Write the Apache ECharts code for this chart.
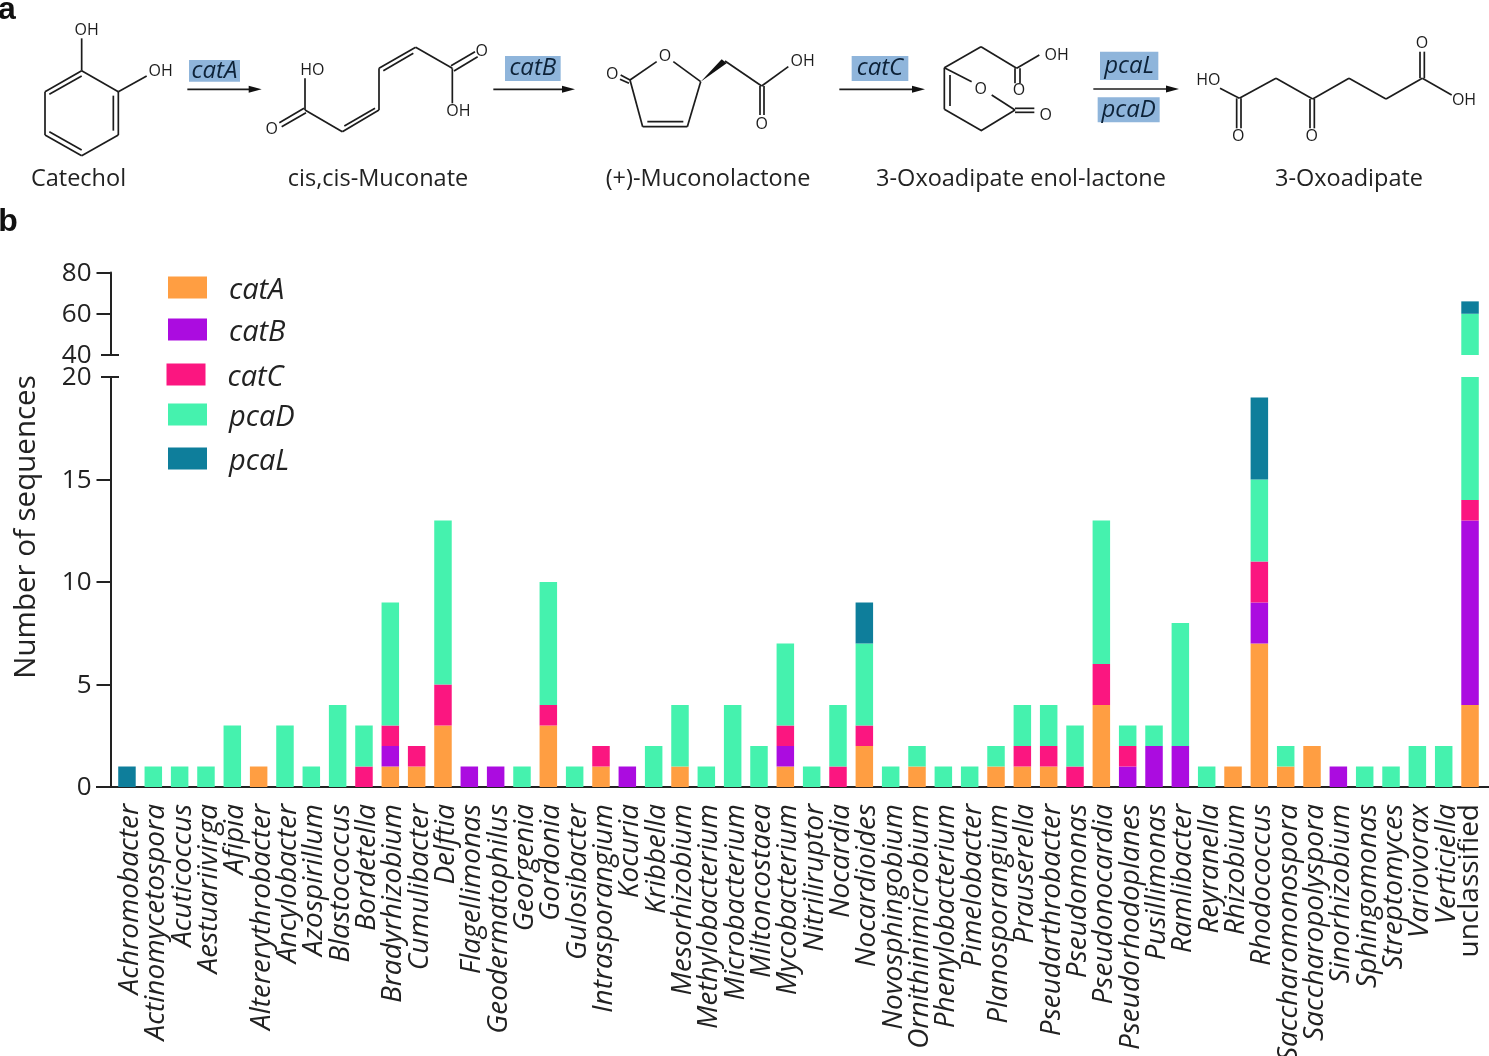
<!DOCTYPE html>
<html><head><meta charset="utf-8">
<style>html,body{margin:0;padding:0;background:#fff;overflow:hidden}#c{width:1489px;height:1056px}</style>
<script src="https://cdn.jsdelivr.net/npm/echarts@6/dist/echarts.min.js"></script>
</head><body><div id="c"></div>
<script>
const categories = ['Achromobacter','Actinomycetospora','Acuticoccus','Aestuariivirga','Afipia','Altererythrobacter','Ancylobacter','Azospirillum','Blastococcus','Bordetella','Bradyrhizobium','Cumulibacter','Delftia','Flagellimonas','Geodermatophilus','Georgenia','Gordonia','Gulosibacter','Intrasporangium','Kocuria','Kribbella','Mesorhizobium','Methylobacterium','Microbacterium','Miltoncostaea','Mycobacterium','Nitriliruptor','Nocardia','Nocardioides','Novosphingobium','Ornithinimicrobium','Phenylobacterium','Pimelobacter','Planosporangium','Prauserella','Pseudarthrobacter','Pseudomonas','Pseudonocardia','Pseudorhodoplanes','Pusillimonas','Ramlibacter','Reyranella','Rhizobium','Rhodococcus','Saccharomonospora','Saccharopolyspora','Sinorhizobium','Sphingomonas','Streptomyces','Variovorax','Verticiella','unclassified'];
const catA = [0,0,0,0,0,1,0,0,0,0,1,1,3,0,0,0,3,0,1,0,0,1,0,0,0,1,0,0,2,0,1,0,0,1,1,1,0,4,0,0,0,0,1,7,1,2,0,0,0,0,0,4];
const catB = [0,0,0,0,0,0,0,0,0,0,1,0,0,1,1,0,0,0,0,1,0,0,0,0,0,1,0,0,0,0,0,0,0,0,0,0,0,0,1,2,2,0,0,2,0,0,1,0,0,0,0,9];
const catC = [0,0,0,0,0,0,0,0,0,1,1,1,2,0,0,0,1,0,1,0,0,0,0,0,0,1,0,1,1,0,0,0,0,0,1,1,1,2,1,0,0,0,0,2,0,0,0,0,0,0,0,1];
const pcaD = [0,1,1,1,3,0,3,1,4,2,6,0,8,0,0,1,6,1,0,0,2,3,1,4,2,4,1,3,4,1,1,1,1,1,2,2,2,7,1,1,6,1,0,4,1,0,0,1,1,2,2,46];
const pcaL = [1,0,0,0,0,0,0,0,0,0,0,0,0,0,0,0,0,0,0,0,0,0,0,0,0,0,0,0,2,0,0,0,0,0,0,0,0,0,0,0,0,0,0,4,0,0,0,0,0,0,0,6];
const seriesNames = ['catA','catB','catC','pcaD','pcaL'];
const seriesValues = [catA,catB,catC,pcaD,pcaL];
const seriesColors = ['#FF9E42','#AB0CE0','#FB1680','#45F2AE','#0E7E9B'];
const lowerTicks = [0,5,10,15,20];
const upperTicks = [40,60,80];

const FONT = '"Open Sans"';
const INK = '#222222';
const chart = echarts.init(document.getElementById('c'));

const G = {left:113.8, right:1489-1483.2};
const series = [];
[1,0].forEach(ax=>{
  seriesNames.forEach((n,i)=>{
    series.push({name:n,type:'bar',stack:'s'+ax,xAxisIndex:ax,yAxisIndex:ax,barWidth:17.5,
      itemStyle:{color:seriesColors[i]},data:seriesValues[i],silent:true,clip:true});
  });
});
const legendPos = [[168,276],[168,318],[166.5,363],[168,403],[168,447]];
const legends = seriesNames.map((n,i)=>({data:[n],left:legendPos[i][0],top:legendPos[i][1],orient:'vertical',padding:0,
  icon:'rect',itemWidth:39,itemHeight:22,selectedMode:false,formatter:'{n|{name}}',
  textStyle:{fontFamily:FONT,fontStyle:'italic',fontSize:29,color:INK,
    rich:{n:{fontFamily:FONT,fontStyle:'italic',fontSize:29,color:INK,padding:[6,0,0,17]}}}}));

chart.setOption({
  animation:false,
  backgroundColor:'#fff',
  legend:legends,
  grid:[
    {left:G.left,right:G.right,top:272.5,height:82.5,outerBoundsMode:'none'},
    {left:G.left,right:G.right,top:377,height:410,outerBoundsMode:'none'}
  ],
  xAxis:[
    {gridIndex:0,type:'category',data:categories,show:false},
    {gridIndex:1,type:'category',
     data:categories.map(c=>c==='unclassified'?{value:c,textStyle:{fontStyle:'normal'}}:c),
     axisLine:{lineStyle:{color:INK,width:2}},
     axisTick:{alignWithLabel:true,length:13,lineStyle:{color:INK,width:2}},
     axisLabel:{rotate:90,interval:0,margin:17,fontFamily:FONT,fontStyle:'italic',fontSize:28,color:INK,verticalAlign:'top',lineHeight:6}}
  ],
  yAxis:[
    {gridIndex:0,type:'value',min:upperTicks[0],max:upperTicks[2],interval:20,offset:3.3,splitLine:{show:false},
     axisLine:{show:true,lineStyle:{color:INK,width:2}},
     axisTick:{show:true,length:14,lineStyle:{color:INK,width:2},customValues:[60,80]},
     axisLabel:{fontFamily:FONT,fontSize:26,color:INK,margin:19,verticalAlign:'top',lineHeight:2}},
    {gridIndex:1,type:'value',min:lowerTicks[0],max:lowerTicks[4],interval:5,offset:3.3,splitLine:{show:false},
     name:'Number of sequences',nameLocation:'middle',nameGap:69,nameRotate:90,
     nameTextStyle:{fontFamily:FONT,fontSize:29.5,color:INK,padding:[0,0,0,110]},
     axisLine:{show:true,lineStyle:{color:INK,width:2}},
     axisTick:{show:true,length:14,lineStyle:{color:INK,width:2},customValues:[0,5,10,15]},
     axisLabel:{fontFamily:FONT,fontSize:26,color:INK,margin:19,verticalAlign:'top',lineHeight:2}}
  ],
  series
});

/* ---- decoration: reaction scheme of panel a, in 3x-zoomed sketch units ---- */
const els = [];
const P = (ox,x,y)=>[ox+x/3,y/3];
const LINE = {stroke:'#1c1c1c',lineWidth:1.7};
function bonds(ox,list){ list.forEach(b=>{
  const a=P(ox,b[0],b[1]), c=P(ox,b[2],b[3]);
  els.push({type:'line',silent:true,shape:{x1:a[0],y1:a[1],x2:c[0],y2:c[1]},style:LINE});
});}
function atoms(ox,list){ list.forEach(t=>{
  const a=P(ox,t[1],t[2]);
  els.push({type:'text',silent:true,style:{text:t[0],x:a[0],y:a[1],align:'center',verticalAlign:'middle',fontFamily:FONT,fontSize:16,fill:'#1c1c1c'}});
});}
function arrow(ox,x1,x2,y){
  const a=P(ox,x1,y), b=P(ox,x2,y);
  els.push({type:'line',silent:true,shape:{x1:a[0],y1:a[1],x2:b[0]-8,y2:a[1]},style:LINE});
  els.push({type:'polygon',silent:true,shape:{points:[[b[0],b[1]],[b[0]-13,b[1]-3.5],[b[0]-13,b[1]+3.5]]},style:{fill:'#111'}});
}
function enzyme(ox,label,x1,y1,x2,y2){
  const a=P(ox,x1,y1), b=P(ox,x2,y2);
  els.push({type:'rect',silent:true,shape:{x:a[0],y:a[1],width:b[0]-a[0],height:b[1]-a[1]},style:{fill:'#8FB5DB'}});
  els.push({type:'text',silent:true,style:{text:label,x:(a[0]+b[0])/2,y:(a[1]+b[1])/2,align:'center',verticalAlign:'middle',fontFamily:FONT,fontStyle:'italic',fontSize:24,fill:'#0D2238'}});
}
function caption(label,x){ els.push({type:'text',silent:true,style:{text:label,x,y:179,align:'center',verticalAlign:'middle',fontFamily:FONT,fontSize:23.5,fill:INK}}); }

// catechol
bonds(0,[[245,212,355,275],[355,275,355,405],[355,405,245,467],[245,467,135,405],[135,405,135,275],[135,275,245,212],
 [148,283,245,228],[340,287,340,392],[148,395,245,450],[245,212,245,115],[355,275,440,228]]);
atoms(0,[['OH',260,92],['OH',482,215]]);
arrow(0,562,785,268); enzyme(0,'catA',567,180,720,245);
// muconate
bonds(0,[[915,330,915,235],[912,325,838,368],[918,338,845,380],[915,330,1027,395],[1027,395,1137,330],[1033,378,1125,325],
 [1137,330,1137,205],[1137,205,1247,142],[1150,212,1240,160],[1247,142,1357,205],[1353,197,1425,155],[1362,213,1433,170],[1357,205,1357,310]]);
atoms(0,[['O',815,388],['HO',937,210],['O',1445,155],['OH',1375,335]]);
// arrow catB
arrow(490,10,255,268); enzyme(490,'catB',45,168,212,243);
// muconolactone
bonds(490,[[500,185,420,240],[550,185,632,245],[420,240,458,380],[458,380,592,380],[472,365,580,365],[592,380,632,245],
 [420,240,392,225],[417,250,390,238],[705,183,815,258],[815,258,895,200],[810,258,810,345],[822,258,822,345]]);
atoms(490,[['O',525,170],['O',367,222],['OH',938,185],['O',815,372]]);
els.push({type:'polygon',silent:true,shape:{points:[P(490,632,245),P(490,695,178),P(490,710,190)]},style:{fill:'#111'}});
arrow(490,1048,1305,268); enzyme(490,'catC',1085,168,1255,243);
// enol-lactone
bonds(490,[[1363,203,1473,140],[1363,203,1363,328],[1380,225,1380,318],[1363,203,1445,245],[1363,328,1475,392]]);
atoms(490,[['O',1472,268]]);
bonds(990,[[-27,140,80,205],[80,205,148,165],[75,205,75,250],[90,205,90,250],[5,285,75,330],[75,330,-27,392],[75,325,133,325],[75,337,133,337]]);
atoms(990,[['OH',200,165],['O',87,270],['O',167,345]]);
arrow(990,310,567,267); enzyme(990,'pcaL',330,155,505,240); enzyme(990,'pcaD',323,292,509,367);
// oxoadipate
bonds(990,[[690,265,748,295],[748,295,858,235],[858,235,968,297],[968,297,1077,235],[1077,235,1188,297],[1188,297,1297,235],[1297,235,1385,285],
 [1290,235,1290,155],[1303,235,1303,155],[740,295,740,385],[753,295,753,385],[960,297,960,385],[973,297,973,385]]);
atoms(990,[['HO',655,240],['OH',1422,302],['O',1296,130],['O',745,410],['O',965,410]]);
// captions
caption('Catechol',78.5); caption('cis,cis-Muconate',378); caption('(+)-Muconolactone',708);
caption('3-Oxoadipate enol-lactone',1021); caption('3-Oxoadipate',1349);
// panel letters
[['a',7,-6],['b',8,206]].forEach(t=>els.push({type:'text',silent:true,style:{text:t[0],x:t[1],y:t[2],align:'center',verticalAlign:'top',fontFamily:'"Liberation Sans"',fontWeight:'bold',fontSize:32,fill:'#111'}}));

// axis break caps and full-width baseline, placed through the axis scales
const y40 = chart.convertToPixel({yAxisIndex:0},40);
const y20 = chart.convertToPixel({yAxisIndex:1},20);
const y0  = chart.convertToPixel({yAxisIndex:1},0);
[y40,y20].forEach(y=>els.push({type:'line',silent:true,shape:{x1:101,y1:y,x2:119,y2:y},style:{stroke:INK,lineWidth:2}}));
els.push({type:'line',silent:true,shape:{x1:96,y1:y0,x2:1489,y2:y0},style:{stroke:INK,lineWidth:2}});

chart.setOption({graphic:{elements:els}});
</script></body></html>
